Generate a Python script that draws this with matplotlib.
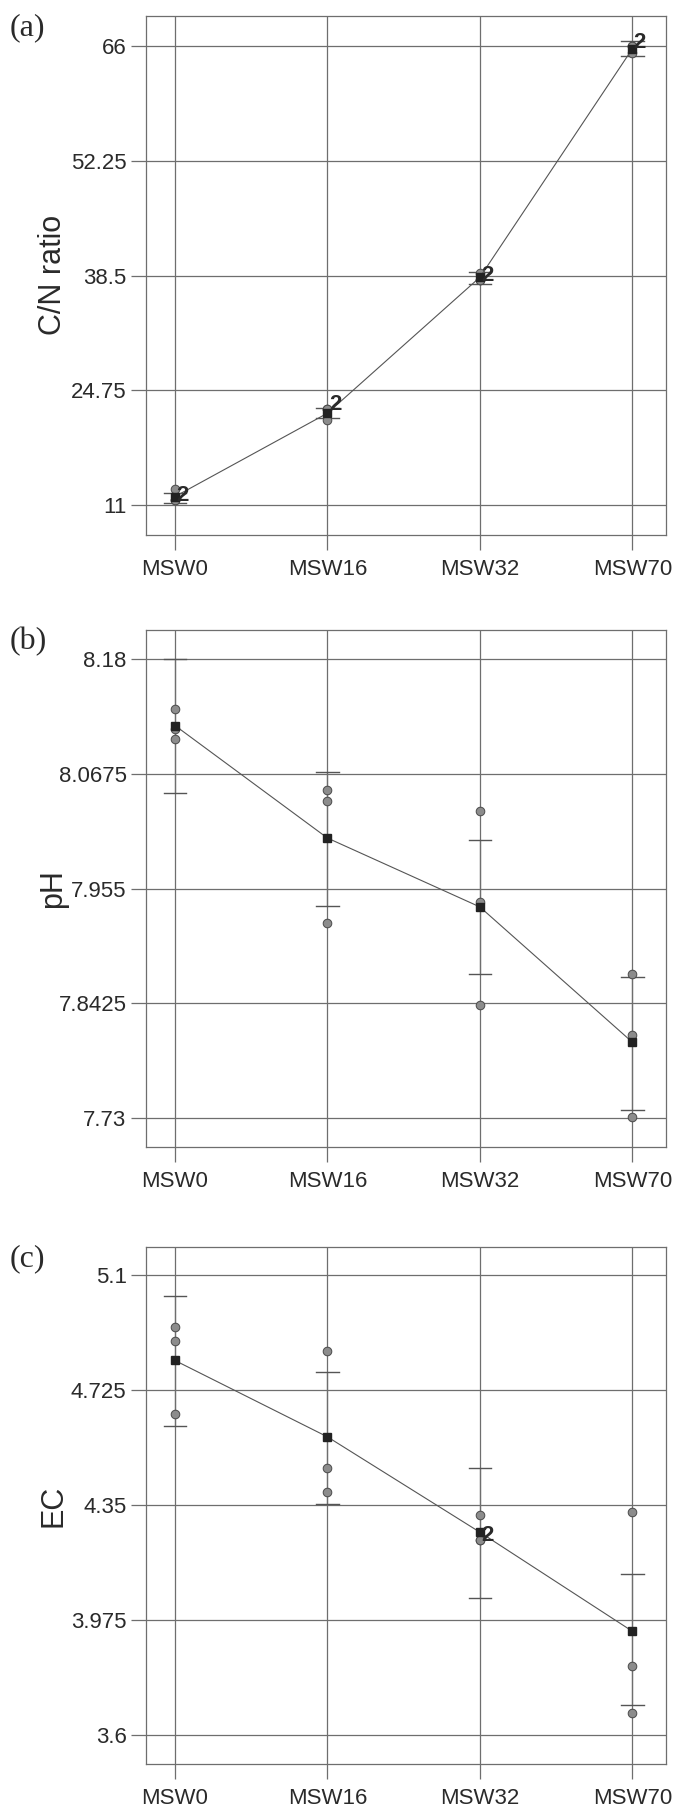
import matplotlib
matplotlib.use("Agg")
import matplotlib.pyplot as plt

plt.rcParams['font.family'] = ['Liberation Sans', 'DejaVu Sans']

groups = ["MSW0", "MSW16", "MSW32", "MSW70"]

# (a) C/N ratio
cn_obs = [[12.9, 11.6, 11.6], [22.5, 22.5, 21.2], [38.8, 38.0, 38.0], [66.0, 66.0, 65.2]]
cn_mean = [12.0, 22.0, 38.3, 65.7]
cn_ci_low = [11.2, 21.4, 37.5, 64.8]
cn_ci_high = [12.4, 22.6, 38.9, 66.6]
cn_dup = [(0, 11.6), (1, 22.5), (2, 38.0), (3, 66.0)]
cn_ticks = [11, 24.75, 38.5, 52.25, 66]
cn_ticklabels = ["11", "24.75", "38.5", "52.25", "66"]

# (b) pH
ph_obs = [[8.1315, 8.1116, 8.1015], [8.0515, 8.041, 7.9208],
          [8.0316, 7.9415, 7.8412], [7.8712, 7.8111, 7.7307]]
ph_mean = [8.115, 8.0046, 7.937, 7.8043]
ph_ci_low = [8.0485, 7.9377, 7.8712, 7.7375]
ph_ci_high = [8.18, 8.0692, 8.0023, 7.8686]
ph_dup = []
ph_ticks = [7.73, 7.8425, 7.955, 8.0675, 8.18]
ph_ticklabels = ["7.73", "7.8425", "7.955", "8.0675", "8.18"]

# (c) EC
ec_obs = [[4.930, 4.886, 4.646], [4.853, 4.470, 4.392],
          [4.316, 4.237, 4.237], [4.327, 3.824, 3.670]]
ec_mean = [4.821, 4.572, 4.261, 3.938]
ec_ci_low = [4.606, 4.354, 4.047, 3.697]
ec_ci_high = [5.032, 4.782, 4.472, 4.124]
ec_dup = [(2, 4.237)]
ec_ticks = [3.6, 3.975, 4.35, 4.725, 5.1]
ec_ticklabels = ["3.6", "3.975", "4.35", "4.725", "5.1"]

grid_c = '#6e6e6e'
xs = list(range(len(groups)))

fig = plt.figure(figsize=(6.76, 18.09), dpi=100)

panels = [
    ("(a)", "C/N ratio", cn_obs, cn_mean, cn_ci_low, cn_ci_high, cn_dup,
     cn_ticks, cn_ticklabels, (7.4, 69.65), [0.216, 0.7043, 0.769, 0.2869]),
    ("(b)", "pH", ph_obs, ph_mean, ph_ci_low, ph_ci_high, ph_dup,
     ph_ticks, ph_ticklabels, (7.701, 8.209), [0.216, 0.3657, 0.769, 0.2862]),
    ("(c)", "EC", ec_obs, ec_mean, ec_ci_low, ec_ci_high, ec_dup,
     ec_ticks, ec_ticklabels, (3.504, 5.1925), [0.216, 0.0247, 0.769, 0.2862]),
]

for tag, ylab, obs, mean, lo, hi, dup, yt, ytl, ylim, pos in panels:
    ax = fig.add_axes(pos)
    ax.set_xlim(-0.19, 3.22)
    ax.set_ylim(*ylim)
    ax.set_xticks(xs)
    ax.set_xticklabels(groups)
    ax.set_yticks(yt)
    ax.set_yticklabels(ytl)
    ax.grid(True, color=grid_c, lw=0.9)
    ax.set_axisbelow(True)
    for s in ax.spines.values():
        s.set_color(grid_c)
        s.set_linewidth(0.9)
    ax.tick_params(axis='y', length=11, width=0.9, color=grid_c, pad=3,
                   labelsize=16, labelcolor='#2a2a2a')
    ax.tick_params(axis='x', length=11, width=0.9, color=grid_c, pad=6,
                   labelsize=16, labelcolor='#2a2a2a')

    # individual values
    for i, vals in enumerate(obs):
        ax.plot([xs[i]] * len(vals), vals, 'o', ms=6.2, mfc='#8c8c8c',
                mec='#4a4a4a', mew=0.7, zorder=3, ls='none')

    # confidence intervals
    for i in xs:
        ax.plot([xs[i], xs[i]], [lo[i], hi[i]], color=grid_c, lw=0.9, zorder=2)
        ax.plot([xs[i] - 0.074, xs[i] + 0.074], [lo[i], lo[i]], color='#555555', lw=1.0, zorder=2)
        ax.plot([xs[i] - 0.074, xs[i] + 0.074], [hi[i], hi[i]], color='#555555', lw=1.0, zorder=2)

    # mean connect line
    ax.plot(xs, mean, color='#555555', lw=0.8, zorder=4)
    ax.plot(xs, mean, 's', ms=5.6, mfc='#222222', mec='#222222', zorder=5, ls='none')

    for gi, v in dup:
        ax.annotate("2", (xs[gi], v), xytext=(1, 3), textcoords='offset points',
                    fontsize=16, fontweight='bold', color='#2a2a2a',
                    ha='left', va='center', zorder=6)

    ax.set_ylabel(ylab, fontsize=22, color='#2a2a2a')
    ax.yaxis.set_label_coords(-0.15, 0.5)

    fig.text(0.014, pos[1] + pos[3] - 0.0067, tag, fontsize=23,
             family=['Liberation Serif', 'DejaVu Serif'], color='#2a2a2a',
             ha='left', va='center')

fig.savefig("out.png", dpi=100)
